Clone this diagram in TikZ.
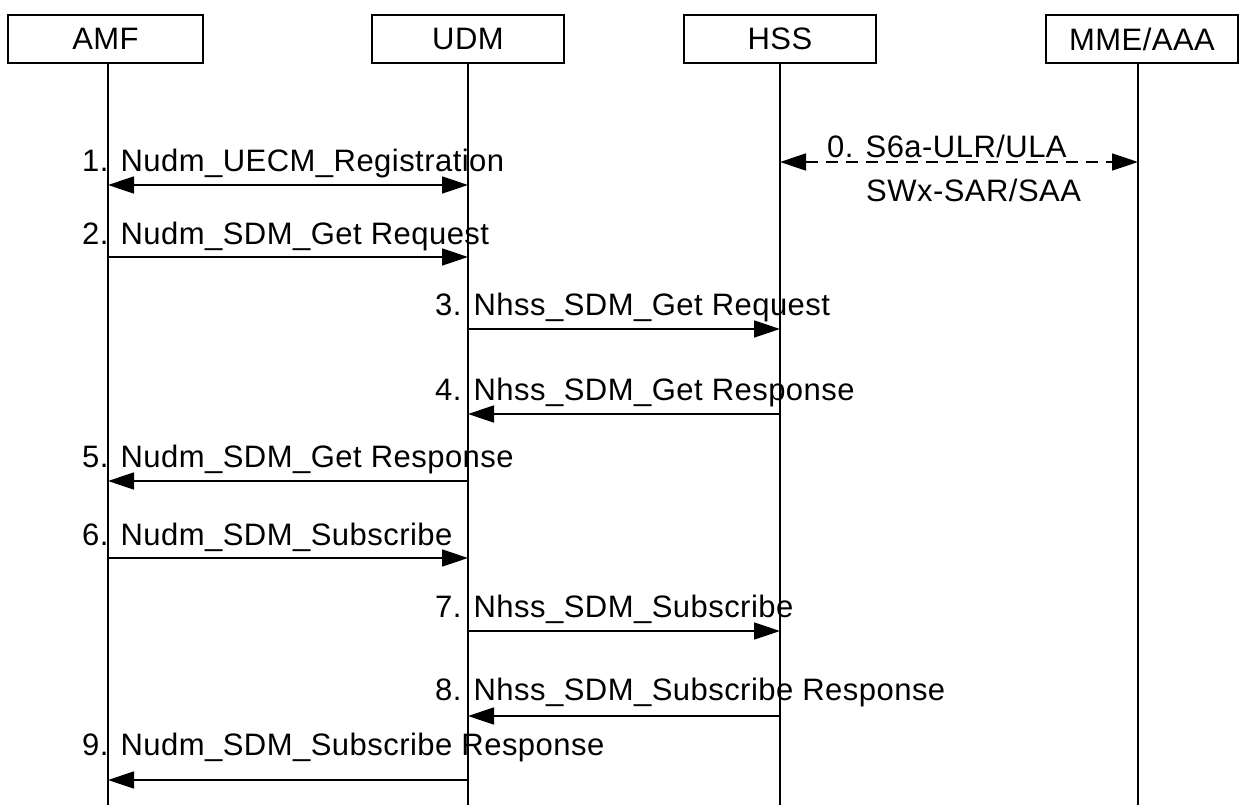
\documentclass[tikz,border=0pt]{standalone}
\usepackage{fontspec}
\setmainfont[LetterSpace=1.5]{Liberation Sans}
\usetikzlibrary{arrows.meta}
\tikzset{
  entity/.style={draw, line width=1.5pt, minimum width=192pt, minimum height=48pt, inner sep=0pt,
    font=\fontsize{31}{36}\selectfont},
  lifeline/.style={line width=1.6pt},
  msg/.style={line width=1.5pt, -{Triangle[length=26pt,width=17pt]}},
  bimsg/.style={line width=1.5pt, {Triangle[length=26pt,width=17pt]}-{Triangle[length=26pt,width=17pt]}},
  dmsg/.style={bimsg, dash pattern=on 12pt off 8pt},
  lbl/.style={anchor=base west, inner sep=0pt, font=\fontsize{31}{36}\selectfont}
}
\begin{document}
\begin{tikzpicture}[x=1pt,y=-1pt]
\path[use as bounding box, fill=white] (0,0) rectangle (1239,805);
% entities
\node[entity, minimum width=195pt] (amf) at (105.5,39) {AMF};
\node[entity] (udm) at (468,39) {UDM};
\node[entity] (hss) at (780,39) {HSS};
\node[entity] (mme) at (1142,39) {MME/AAA};
% lifeline bottoms
\coordinate (amfB) at (108,805);
\coordinate (udmB) at (468,805);
\coordinate (hssB) at (780,805);
\coordinate (mmeB) at (1138,805);
\draw[lifeline] (amf.south -| amfB) -- (amfB);
\draw[lifeline] (udm.south -| udmB) -- (udmB);
\draw[lifeline] (hss.south -| hssB) -- (hssB);
\draw[lifeline] (mme.south -| mmeB) -- (mmeB);
% message points
\coordinate (h0) at (780,162); \coordinate (m0) at (1138,162);
\coordinate (a1) at (108,185); \coordinate (u1) at (468,185);
\coordinate (a2) at (108,257); \coordinate (u2) at (468,257);
\coordinate (u3) at (468,329); \coordinate (h3) at (780,329);
\coordinate (u4) at (468,414); \coordinate (h4) at (780,414);
\coordinate (a5) at (108,481); \coordinate (u5) at (468,481);
\coordinate (a6) at (108,558); \coordinate (u6) at (468,558);
\coordinate (u7) at (468,631); \coordinate (h7) at (780,631);
\coordinate (u8) at (468,716); \coordinate (h8) at (780,716);
\coordinate (a9) at (108,780); \coordinate (u9) at (468,780);
% messages
\draw[dmsg] (h0) -- (m0);
\draw[bimsg] (a1) -- (u1);
\draw[msg] (a2) -- (u2);
\draw[msg] (u3) -- (h3);
\draw[msg] (h4) -- (u4);
\draw[msg] (u5) -- (a5);
\draw[msg] (a6) -- (u6);
\draw[msg] (u7) -- (h7);
\draw[msg] (h8) -- (u8);
\draw[msg] (u9) -- (a9);
% labels
\node[lbl] (l0a) at (827,158) {0. S6a-ULR/ULA};
\node[lbl] (l0b) at (866,202) {SWx-SAR/SAA};
\node[lbl] (l1) at (82,172) {1. Nudm\_UECM\_Registration};
\node[lbl] (l2) at (82,244) {2. Nudm\_SDM\_Get Request};
\node[lbl] (l3) at (435,315) {3. Nhss\_SDM\_Get Request};
\node[lbl] (l4) at (435,400) {4. Nhss\_SDM\_Get Response};
\node[lbl] (l5) at (82,467) {5. Nudm\_SDM\_Get Response};
\node[lbl] (l6) at (82,545) {6. Nudm\_SDM\_Subscribe};
\node[lbl] (l7) at (435,617) {7. Nhss\_SDM\_Subscribe};
\node[lbl] (l8) at (435,700) {8. Nhss\_SDM\_Subscribe Response};
\node[lbl] (l9) at (82,755) {9. Nudm\_SDM\_Subscribe Response};
\end{tikzpicture}
\end{document}
